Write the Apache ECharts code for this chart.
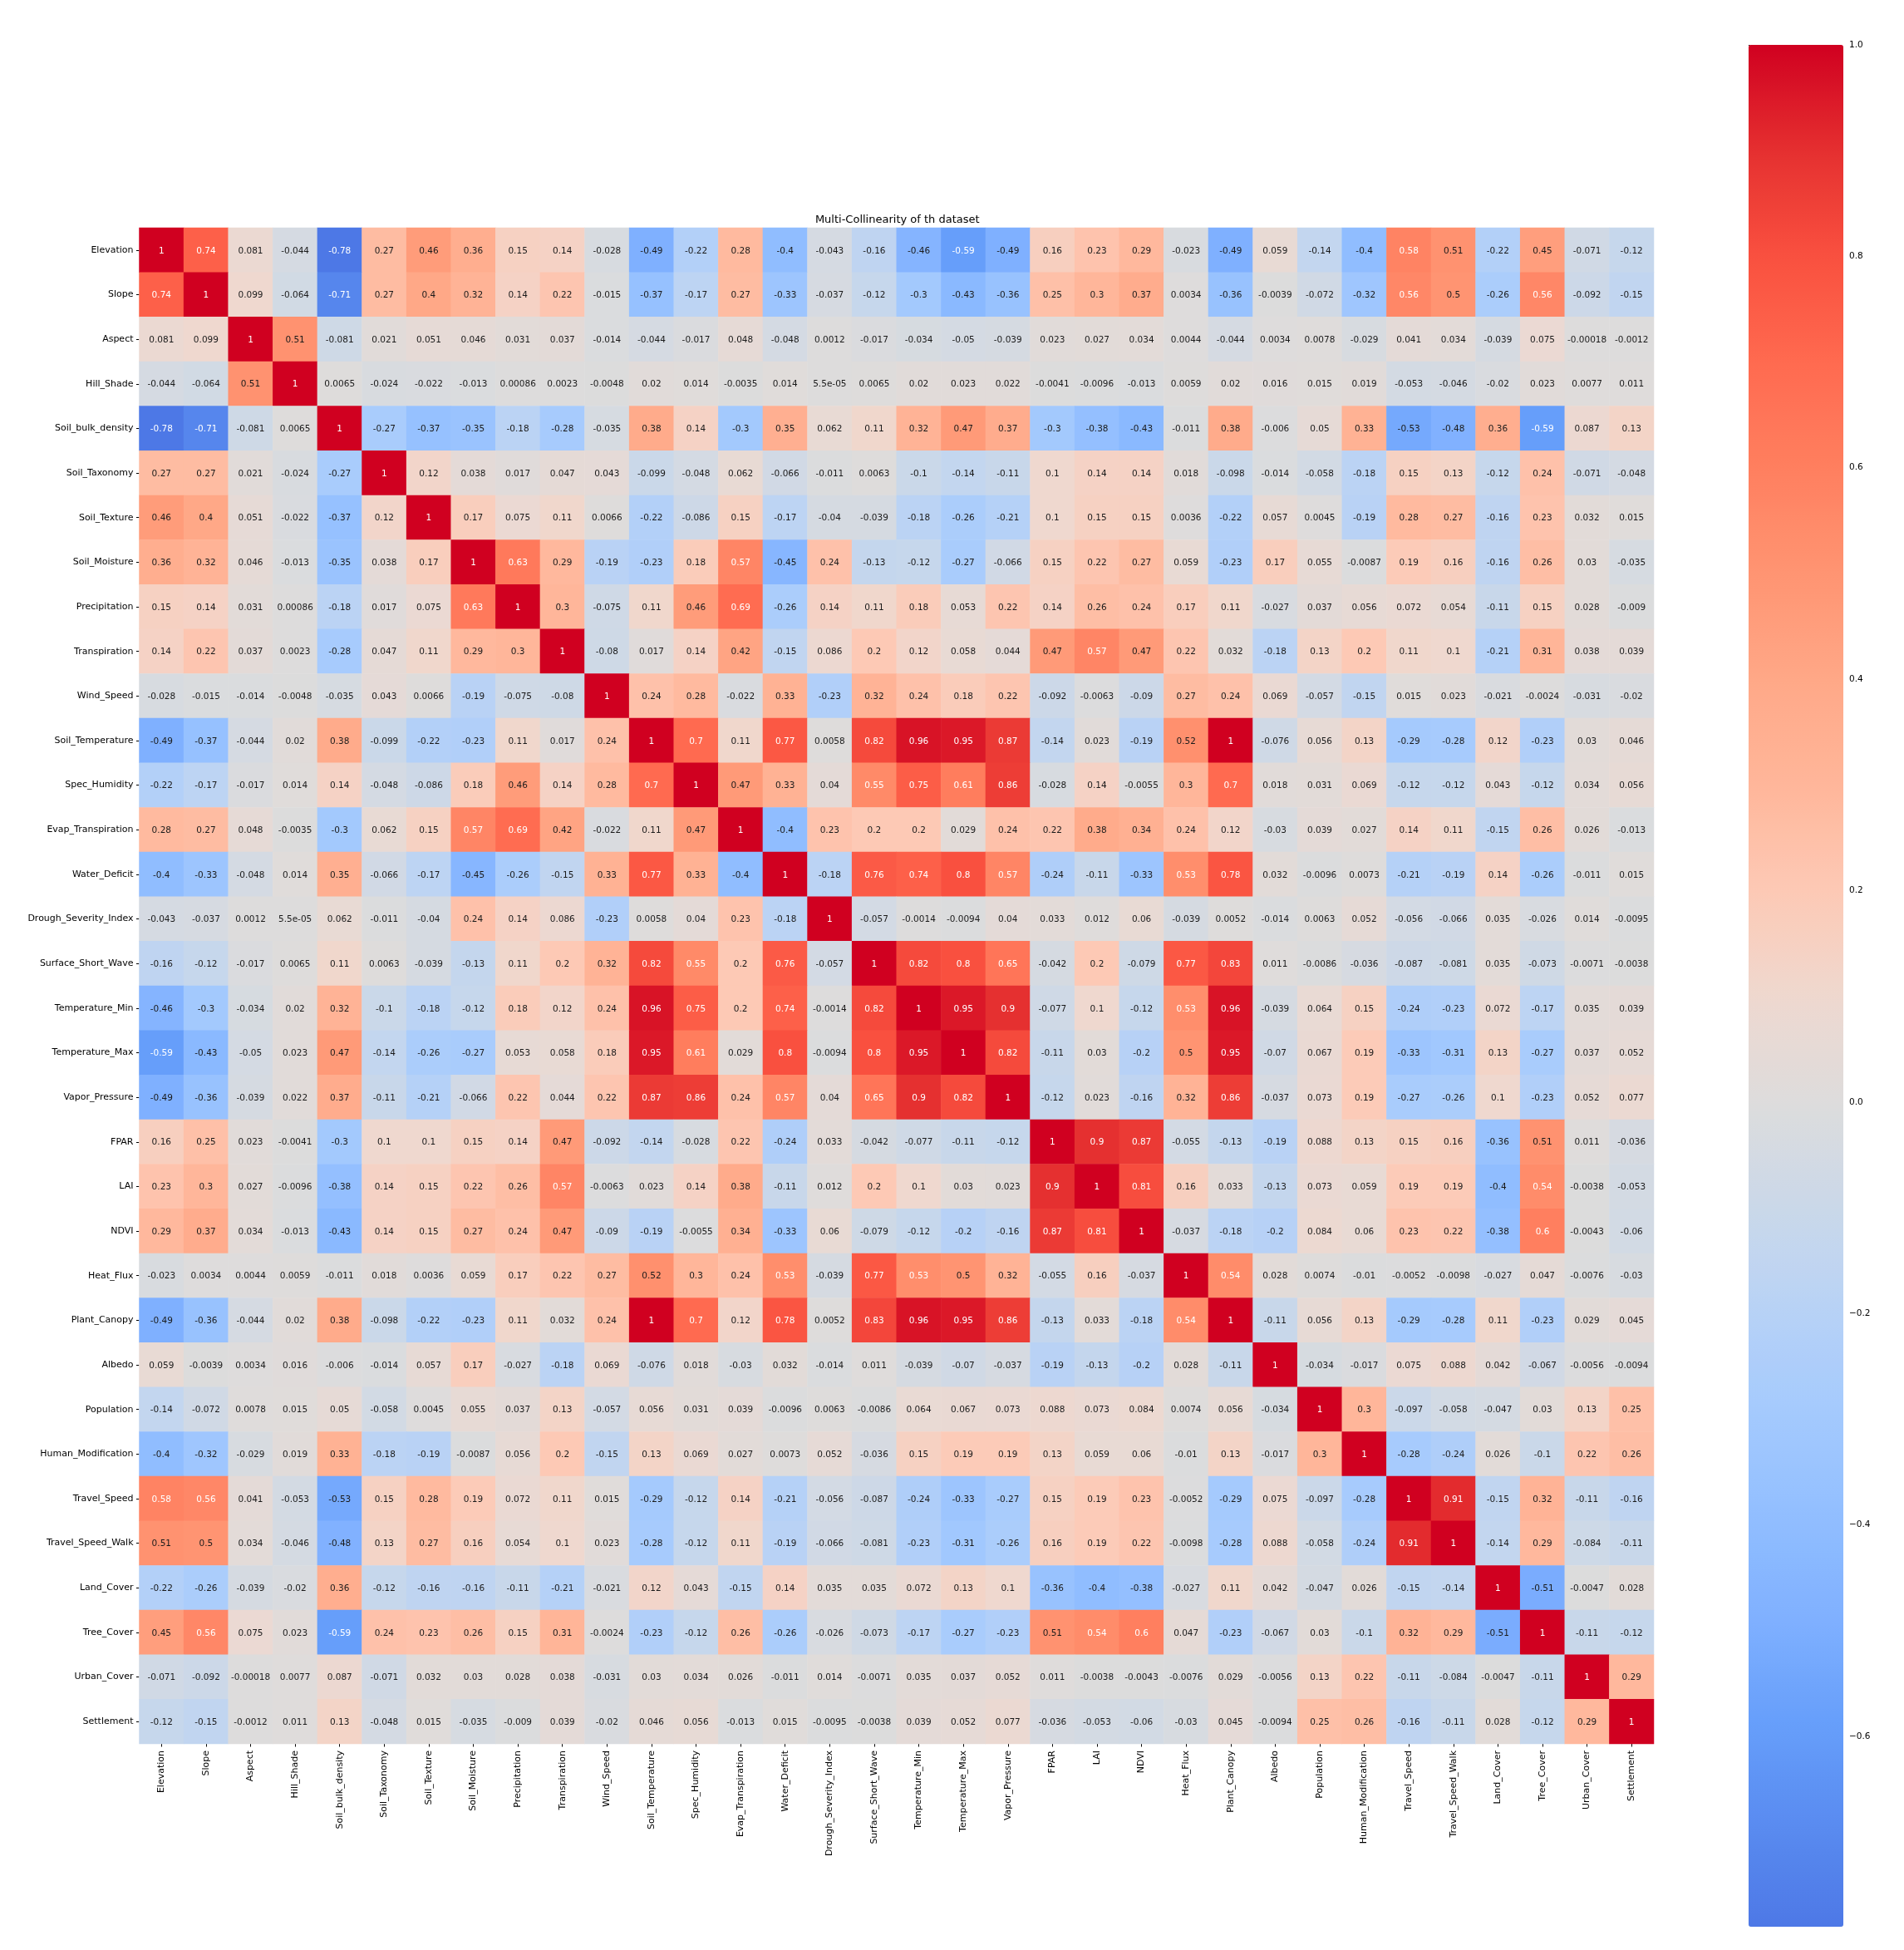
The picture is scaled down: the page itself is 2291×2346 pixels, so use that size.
<!DOCTYPE html>
<html>
<head>
<meta charset="utf-8">
<style>html,body{margin:0;padding:0;background:#fff}#c{width:2291px;height:2346px}</style>
<script src="https://cdn.jsdelivr.net/npm/echarts@6/dist/echarts.min.js"></script>
</head>
<body>
<div id="c"></div>
<script>
const labels = ["Elevation","Slope","Aspect","Hill_Shade","Soil_bulk_density","Soil_Taxonomy","Soil_Texture","Soil_Moisture","Precipitation","Transpiration","Wind_Speed","Soil_Temperature","Spec_Humidity","Evap_Transpiration","Water_Deficit","Drough_Severity_Index","Surface_Short_Wave","Temperature_Min","Temperature_Max","Vapor_Pressure","FPAR","LAI","NDVI","Heat_Flux","Plant_Canopy","Albedo","Population","Human_Modification","Travel_Speed","Travel_Speed_Walk","Land_Cover","Tree_Cover","Urban_Cover","Settlement"];

const elevation = [1,0.74,0.081,-0.044,-0.78,0.27,0.46,0.36,0.15,0.14,-0.028,-0.49,-0.22,0.28,-0.4,-0.043,-0.16,-0.46,-0.59,-0.49,0.16,0.23,0.29,-0.023,-0.49,0.059,-0.14,-0.4,0.58,0.51,-0.22,0.45,-0.071,-0.12];
const slope = [0.74,1,0.099,-0.064,-0.71,0.27,0.4,0.32,0.14,0.22,-0.015,-0.37,-0.17,0.27,-0.33,-0.037,-0.12,-0.3,-0.43,-0.36,0.25,0.3,0.37,0.0034,-0.36,-0.0039,-0.072,-0.32,0.56,0.5,-0.26,0.56,-0.092,-0.15];
const aspect = [0.081,0.099,1,0.51,-0.081,0.021,0.051,0.046,0.031,0.037,-0.014,-0.044,-0.017,0.048,-0.048,0.0012,-0.017,-0.034,-0.05,-0.039,0.023,0.027,0.034,0.0044,-0.044,0.0034,0.0078,-0.029,0.041,0.034,-0.039,0.075,-0.00018,-0.0012];
const hillShade = [-0.044,-0.064,0.51,1,0.0065,-0.024,-0.022,-0.013,0.00086,0.0023,-0.0048,0.02,0.014,-0.0035,0.014,5.5e-5,0.0065,0.02,0.023,0.022,-0.0041,-0.0096,-0.013,0.0059,0.02,0.016,0.015,0.019,-0.053,-0.046,-0.02,0.023,0.0077,0.011];
const soilBulkDensity = [-0.78,-0.71,-0.081,0.0065,1,-0.27,-0.37,-0.35,-0.18,-0.28,-0.035,0.38,0.14,-0.3,0.35,0.062,0.11,0.32,0.47,0.37,-0.3,-0.38,-0.43,-0.011,0.38,-0.006,0.05,0.33,-0.53,-0.48,0.36,-0.59,0.087,0.13];
const soilTaxonomy = [0.27,0.27,0.021,-0.024,-0.27,1,0.12,0.038,0.017,0.047,0.043,-0.099,-0.048,0.062,-0.066,-0.011,0.0063,-0.1,-0.14,-0.11,0.1,0.14,0.14,0.018,-0.098,-0.014,-0.058,-0.18,0.15,0.13,-0.12,0.24,-0.071,-0.048];
const soilTexture = [0.46,0.4,0.051,-0.022,-0.37,0.12,1,0.17,0.075,0.11,0.0066,-0.22,-0.086,0.15,-0.17,-0.04,-0.039,-0.18,-0.26,-0.21,0.1,0.15,0.15,0.0036,-0.22,0.057,0.0045,-0.19,0.28,0.27,-0.16,0.23,0.032,0.015];
const soilMoisture = [0.36,0.32,0.046,-0.013,-0.35,0.038,0.17,1,0.63,0.29,-0.19,-0.23,0.18,0.57,-0.45,0.24,-0.13,-0.12,-0.27,-0.066,0.15,0.22,0.27,0.059,-0.23,0.17,0.055,-0.0087,0.19,0.16,-0.16,0.26,0.03,-0.035];
const precipitation = [0.15,0.14,0.031,0.00086,-0.18,0.017,0.075,0.63,1,0.3,-0.075,0.11,0.46,0.69,-0.26,0.14,0.11,0.18,0.053,0.22,0.14,0.26,0.24,0.17,0.11,-0.027,0.037,0.056,0.072,0.054,-0.11,0.15,0.028,-0.009];
const transpiration = [0.14,0.22,0.037,0.0023,-0.28,0.047,0.11,0.29,0.3,1,-0.08,0.017,0.14,0.42,-0.15,0.086,0.2,0.12,0.058,0.044,0.47,0.57,0.47,0.22,0.032,-0.18,0.13,0.2,0.11,0.1,-0.21,0.31,0.038,0.039];
const windSpeed = [-0.028,-0.015,-0.014,-0.0048,-0.035,0.043,0.0066,-0.19,-0.075,-0.08,1,0.24,0.28,-0.022,0.33,-0.23,0.32,0.24,0.18,0.22,-0.092,-0.0063,-0.09,0.27,0.24,0.069,-0.057,-0.15,0.015,0.023,-0.021,-0.0024,-0.031,-0.02];
const soilTemperature = [-0.49,-0.37,-0.044,0.02,0.38,-0.099,-0.22,-0.23,0.11,0.017,0.24,1,0.7,0.11,0.77,0.0058,0.82,0.96,0.95,0.87,-0.14,0.023,-0.19,0.52,1,-0.076,0.056,0.13,-0.29,-0.28,0.12,-0.23,0.03,0.046];
const specHumidity = [-0.22,-0.17,-0.017,0.014,0.14,-0.048,-0.086,0.18,0.46,0.14,0.28,0.7,1,0.47,0.33,0.04,0.55,0.75,0.61,0.86,-0.028,0.14,-0.0055,0.3,0.7,0.018,0.031,0.069,-0.12,-0.12,0.043,-0.12,0.034,0.056];
const evapTranspiration = [0.28,0.27,0.048,-0.0035,-0.3,0.062,0.15,0.57,0.69,0.42,-0.022,0.11,0.47,1,-0.4,0.23,0.2,0.2,0.029,0.24,0.22,0.38,0.34,0.24,0.12,-0.03,0.039,0.027,0.14,0.11,-0.15,0.26,0.026,-0.013];
const waterDeficit = [-0.4,-0.33,-0.048,0.014,0.35,-0.066,-0.17,-0.45,-0.26,-0.15,0.33,0.77,0.33,-0.4,1,-0.18,0.76,0.74,0.8,0.57,-0.24,-0.11,-0.33,0.53,0.78,0.032,-0.0096,0.0073,-0.21,-0.19,0.14,-0.26,-0.011,0.015];
const droughSeverityIndex = [-0.043,-0.037,0.0012,5.5e-5,0.062,-0.011,-0.04,0.24,0.14,0.086,-0.23,0.0058,0.04,0.23,-0.18,1,-0.057,-0.0014,-0.0094,0.04,0.033,0.012,0.06,-0.039,0.0052,-0.014,0.0063,0.052,-0.056,-0.066,0.035,-0.026,0.014,-0.0095];
const surfaceShortWave = [-0.16,-0.12,-0.017,0.0065,0.11,0.0063,-0.039,-0.13,0.11,0.2,0.32,0.82,0.55,0.2,0.76,-0.057,1,0.82,0.8,0.65,-0.042,0.2,-0.079,0.77,0.83,0.011,-0.0086,-0.036,-0.087,-0.081,0.035,-0.073,-0.0071,-0.0038];
const temperatureMin = [-0.46,-0.3,-0.034,0.02,0.32,-0.1,-0.18,-0.12,0.18,0.12,0.24,0.96,0.75,0.2,0.74,-0.0014,0.82,1,0.95,0.9,-0.077,0.1,-0.12,0.53,0.96,-0.039,0.064,0.15,-0.24,-0.23,0.072,-0.17,0.035,0.039];
const temperatureMax = [-0.59,-0.43,-0.05,0.023,0.47,-0.14,-0.26,-0.27,0.053,0.058,0.18,0.95,0.61,0.029,0.8,-0.0094,0.8,0.95,1,0.82,-0.11,0.03,-0.2,0.5,0.95,-0.07,0.067,0.19,-0.33,-0.31,0.13,-0.27,0.037,0.052];
const vaporPressure = [-0.49,-0.36,-0.039,0.022,0.37,-0.11,-0.21,-0.066,0.22,0.044,0.22,0.87,0.86,0.24,0.57,0.04,0.65,0.9,0.82,1,-0.12,0.023,-0.16,0.32,0.86,-0.037,0.073,0.19,-0.27,-0.26,0.1,-0.23,0.052,0.077];
const fpar = [0.16,0.25,0.023,-0.0041,-0.3,0.1,0.1,0.15,0.14,0.47,-0.092,-0.14,-0.028,0.22,-0.24,0.033,-0.042,-0.077,-0.11,-0.12,1,0.9,0.87,-0.055,-0.13,-0.19,0.088,0.13,0.15,0.16,-0.36,0.51,0.011,-0.036];
const lai = [0.23,0.3,0.027,-0.0096,-0.38,0.14,0.15,0.22,0.26,0.57,-0.0063,0.023,0.14,0.38,-0.11,0.012,0.2,0.1,0.03,0.023,0.9,1,0.81,0.16,0.033,-0.13,0.073,0.059,0.19,0.19,-0.4,0.54,-0.0038,-0.053];
const ndvi = [0.29,0.37,0.034,-0.013,-0.43,0.14,0.15,0.27,0.24,0.47,-0.09,-0.19,-0.0055,0.34,-0.33,0.06,-0.079,-0.12,-0.2,-0.16,0.87,0.81,1,-0.037,-0.18,-0.2,0.084,0.06,0.23,0.22,-0.38,0.6,-0.0043,-0.06];
const heatFlux = [-0.023,0.0034,0.0044,0.0059,-0.011,0.018,0.0036,0.059,0.17,0.22,0.27,0.52,0.3,0.24,0.53,-0.039,0.77,0.53,0.5,0.32,-0.055,0.16,-0.037,1,0.54,0.028,0.0074,-0.01,-0.0052,-0.0098,-0.027,0.047,-0.0076,-0.03];
const plantCanopy = [-0.49,-0.36,-0.044,0.02,0.38,-0.098,-0.22,-0.23,0.11,0.032,0.24,1,0.7,0.12,0.78,0.0052,0.83,0.96,0.95,0.86,-0.13,0.033,-0.18,0.54,1,-0.11,0.056,0.13,-0.29,-0.28,0.11,-0.23,0.029,0.045];
const albedo = [0.059,-0.0039,0.0034,0.016,-0.006,-0.014,0.057,0.17,-0.027,-0.18,0.069,-0.076,0.018,-0.03,0.032,-0.014,0.011,-0.039,-0.07,-0.037,-0.19,-0.13,-0.2,0.028,-0.11,1,-0.034,-0.017,0.075,0.088,0.042,-0.067,-0.0056,-0.0094];
const population = [-0.14,-0.072,0.0078,0.015,0.05,-0.058,0.0045,0.055,0.037,0.13,-0.057,0.056,0.031,0.039,-0.0096,0.0063,-0.0086,0.064,0.067,0.073,0.088,0.073,0.084,0.0074,0.056,-0.034,1,0.3,-0.097,-0.058,-0.047,0.03,0.13,0.25];
const humanModification = [-0.4,-0.32,-0.029,0.019,0.33,-0.18,-0.19,-0.0087,0.056,0.2,-0.15,0.13,0.069,0.027,0.0073,0.052,-0.036,0.15,0.19,0.19,0.13,0.059,0.06,-0.01,0.13,-0.017,0.3,1,-0.28,-0.24,0.026,-0.1,0.22,0.26];
const travelSpeed = [0.58,0.56,0.041,-0.053,-0.53,0.15,0.28,0.19,0.072,0.11,0.015,-0.29,-0.12,0.14,-0.21,-0.056,-0.087,-0.24,-0.33,-0.27,0.15,0.19,0.23,-0.0052,-0.29,0.075,-0.097,-0.28,1,0.91,-0.15,0.32,-0.11,-0.16];
const travelSpeedWalk = [0.51,0.5,0.034,-0.046,-0.48,0.13,0.27,0.16,0.054,0.1,0.023,-0.28,-0.12,0.11,-0.19,-0.066,-0.081,-0.23,-0.31,-0.26,0.16,0.19,0.22,-0.0098,-0.28,0.088,-0.058,-0.24,0.91,1,-0.14,0.29,-0.084,-0.11];
const landCover = [-0.22,-0.26,-0.039,-0.02,0.36,-0.12,-0.16,-0.16,-0.11,-0.21,-0.021,0.12,0.043,-0.15,0.14,0.035,0.035,0.072,0.13,0.1,-0.36,-0.4,-0.38,-0.027,0.11,0.042,-0.047,0.026,-0.15,-0.14,1,-0.51,-0.0047,0.028];
const treeCover = [0.45,0.56,0.075,0.023,-0.59,0.24,0.23,0.26,0.15,0.31,-0.0024,-0.23,-0.12,0.26,-0.26,-0.026,-0.073,-0.17,-0.27,-0.23,0.51,0.54,0.6,0.047,-0.23,-0.067,0.03,-0.1,0.32,0.29,-0.51,1,-0.11,-0.12];
const urbanCover = [-0.071,-0.092,-0.00018,0.0077,0.087,-0.071,0.032,0.03,0.028,0.038,-0.031,0.03,0.034,0.026,-0.011,0.014,-0.0071,0.035,0.037,0.052,0.011,-0.0038,-0.0043,-0.0076,0.029,-0.0056,0.13,0.22,-0.11,-0.084,-0.0047,-0.11,1,0.29];
const settlement = [-0.12,-0.15,-0.0012,0.011,0.13,-0.048,0.015,-0.035,-0.009,0.039,-0.02,0.046,0.056,-0.013,0.015,-0.0095,-0.0038,0.039,0.052,0.077,-0.036,-0.053,-0.06,-0.03,0.045,-0.0094,0.25,0.26,-0.16,-0.11,0.028,-0.12,0.29,1];

const matrix = [elevation,slope,aspect,hillShade,soilBulkDensity,soilTaxonomy,soilTexture,soilMoisture,precipitation,transpiration,windSpeed,soilTemperature,specHumidity,evapTranspiration,waterDeficit,droughSeverityIndex,surfaceShortWave,temperatureMin,temperatureMax,vaporPressure,fpar,lai,ndvi,heatFlux,plantCanopy,albedo,population,humanModification,travelSpeed,travelSpeedWalk,landCover,treeCover,urbanCover,settlement];

const colorbarTicks = [-0.6,-0.4,-0.2,0,0.2,0.4,0.6,0.8,1];
const vMin = -0.78, vMax = 1;

// colour ramp
const rampValues = [-0.78,-0.59,-0.49,-0.4,-0.28,-0.18,-0.1,0,0.1,0.2,0.3,0.4,0.5,0.6,0.7,0.8,0.9,1];
const rampColors = ['#4d78e6','#669efa','#7fb0ff','#90bdff','#a7cbfd','#bbd3f4','#cad8e9','#dddcdc','#efd8cf','#fdc9b5','#ffb69a','#ffa887','#ff9472','#ff7f5f','#ff6a50','#f9503f','#e53030','#d00020'];

function hex(c){return [1,3,5].map(i=>parseInt(c.substr(i,2),16));}
function rampAt(v){
  let i=0; while(i<rampValues.length-2 && v>rampValues[i+1]) i++;
  const t=(v-rampValues[i])/(rampValues[i+1]-rampValues[i]);
  const a=hex(rampColors[i]), b=hex(rampColors[i+1]);
  return 'rgb('+a.map((x,k)=>Math.round(x+(b[k]-x)*t)).join(',')+')';
}
const rampSampled=[]; for(let i=0;i<=178;i++) rampSampled.push(rampAt(vMin+(vMax-vMin)*i/178));

const font='"DejaVu Sans"';
const cells=[];
matrix.forEach((row,y)=>row.forEach((v,x)=>{
  cells.push({value:[x,y,v],label:{color:(v>=0.53||v<=-0.59)?'#ffffff':'#1a1a1a'}});
}));
function fmt(v){
  if(Math.abs(v)<1e-4) return v.toExponential(1).replace(/e-(\d)$/,'e-0$1');
  return String(v);
}

const gridBox={left:167.5,top:274,width:1822.5,height:1824};
const barBox={left:2104,top:54,width:114,height:2264};

const chart=echarts.init(document.getElementById('c'),null,{renderer:'canvas'});
chart.setOption({
  animation:false,
  backgroundColor:'#ffffff',
  textStyle:{fontFamily:font},
  title:{text:'Multi-Collinearity of th dataset',left:gridBox.left+gridBox.width/2-4,top:253,textAlign:'center',
    textStyle:{fontFamily:font,fontSize:13,fontWeight:'normal',color:'#000'}},
  grid:[
    Object.assign({containLabel:false},gridBox),
    Object.assign({containLabel:false,show:false},barBox)
  ],
  xAxis:[
    {type:'category',gridIndex:0,data:labels,position:'bottom',splitArea:{show:false},splitLine:{show:false},
      axisLine:{show:false},axisTick:{show:true,alignWithLabel:true,length:3.5,lineStyle:{color:'#000',width:1}},
      axisLabel:{interval:0,rotate:90,fontFamily:font,fontSize:11,color:'#000',margin:8}},
    {type:'value',gridIndex:1,min:0,max:1,show:false}
  ],
  yAxis:[
    {type:'category',gridIndex:0,data:labels,inverse:true,splitArea:{show:false},splitLine:{show:false},
      axisLine:{show:false},axisTick:{show:true,alignWithLabel:true,length:3.5,lineStyle:{color:'#000',width:1}},
      axisLabel:{interval:0,fontFamily:font,fontSize:11,color:'#000',margin:7,padding:[2,0,0,0]}},
    {type:'value',gridIndex:1,position:'right',min:vMin,max:vMax,splitLine:{show:false},axisLine:{show:false},
      axisTick:{show:true,length:3.5,customValues:colorbarTicks,lineStyle:{color:'#000',width:1}},
      axisLabel:{show:true,customValues:colorbarTicks,fontFamily:font,fontSize:10.5,color:'#000',margin:7,padding:[2,0,0,0],
        formatter:v=>(v<0?'\u2212':'')+Math.abs(v).toFixed(1)}}
  ],
  visualMap:{type:'continuous',seriesIndex:0,min:vMin,max:vMax,calculable:false,realtime:false,hoverLink:false,silent:true,
    left:barBox.left,top:barBox.top,itemWidth:barBox.width,itemHeight:barBox.height,padding:0,text:['',''],showLabel:false,
    inRange:{color:rampSampled}},
  series:[{
    type:'heatmap',xAxisIndex:0,yAxisIndex:0,data:cells,progressive:0,silent:true,
    label:{show:true,fontFamily:font,fontSize:10.5,offset:[0,1],formatter:p=>fmt(p.value[2])},
    itemStyle:{borderWidth:0},
    emphasis:{disabled:true}
  }]
});
</script>
</body>
</html>
